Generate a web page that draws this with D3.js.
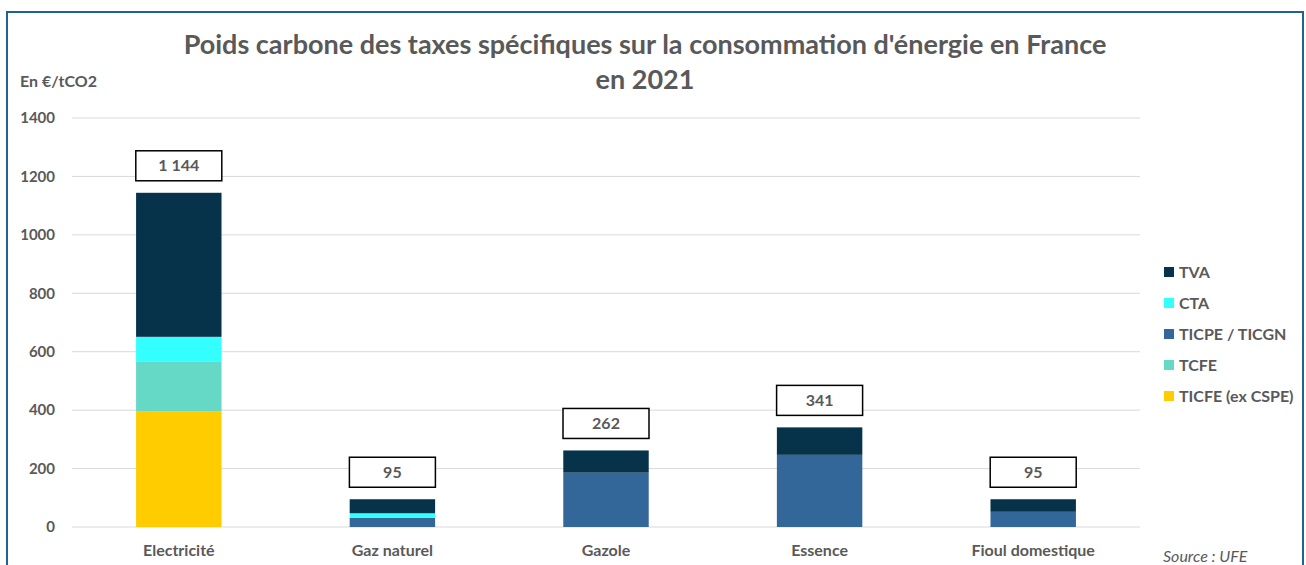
<!DOCTYPE html>
<html lang="fr">
<head>
<meta charset="UTF-8">
<script src="https://d3js.org/d3.v7.min.js"></script>
<title>Poids carbone des taxes</title>
<style>
  body { margin: 0; background: #fff; }
  text { font-family: Lato, "Open Sans", sans-serif; }
</style>
</head>
<body>
<div id="chart"></div>
<script>
// categories and stacked series (€/tCO2)
var categories = ["Electricité", "Gaz naturel", "Gazole", "Essence", "Fioul domestique"];
var ticfe  = [395, 0, 0, 0, 0];
var tcfe   = [170, 0, 0, 0, 0];
var ticpe  = [0, 31, 186, 247, 52];
var cta    = [86, 16, 0, 0, 0];
var tva    = [493, 48, 76, 94, 43];
var totals = ["1 144", "95", "262", "341", "95"];
var yTicks = [0, 200, 400, 600, 800, 1000, 1200, 1400];

var seriesNames  = ["TICFE (ex CSPE)", "TCFE", "TICPE / TICGN", "CTA", "TVA"];
var seriesColors = ["#ffcc00", "#66d9c6", "#336699", "#33ffff", "#06334a"];

var W = 1306, H = 565;
var svg = d3.select("#chart").append("svg").attr("width", W).attr("height", H);

// frame
svg.append("rect").attr("x", 7).attr("y", 12).attr("width", 1296).attr("height", 600)
  .attr("fill", "none").attr("stroke", "#1f6391").attr("stroke-width", 2);

var rows = categories.map(function(c, i) {
  return {cat: c, "TICFE (ex CSPE)": ticfe[i], "TCFE": tcfe[i], "TICPE / TICGN": ticpe[i],
          "CTA": cta[i], "TVA": tva[i], label: totals[i]};
});
var stack = d3.stack().keys(seriesNames)(rows);

var x = d3.scaleBand().domain(categories).range([72, 1140]).paddingInner(0.6).paddingOuter(0.3);
var y = d3.scaleLinear().domain([0, 1400]).range([527, 118]);

// gridlines
svg.append("g").selectAll("line").data(yTicks).join("line")
  .attr("x1", 72).attr("x2", 1140)
  .attr("y1", function(d) { return y(d); }).attr("y2", function(d) { return y(d); })
  .attr("stroke", "#d9d9d9").attr("stroke-width", 1);

// y tick labels
svg.append("g").selectAll("text").data(yTicks).join("text")
  .attr("x", 55).attr("y", function(d) { return y(d); }).attr("dy", "0.35em")
  .attr("text-anchor", "end").attr("font-size", 15).attr("font-weight", "bold").attr("fill", "#595959")
  .text(function(d) { return d; });

// bars
svg.append("g").selectAll("g").data(stack).join("g")
  .attr("fill", function(d, i) { return seriesColors[i]; })
  .selectAll("rect").data(function(d) { return d; }).join("rect")
  .attr("x", function(d) { return x(d.data.cat); })
  .attr("width", x.bandwidth())
  .attr("y", function(d) { return y(d[1]); })
  .attr("height", function(d) { return y(d[0]) - y(d[1]); });

// total label boxes
var topLayer = stack[stack.length - 1];
var lab = svg.append("g").selectAll("g").data(topLayer).join("g")
  .attr("transform", function(d) {
    return "translate(" + (x(d.data.cat) + x.bandwidth() / 2) + "," + (y(d[1]) - 12) + ")";
  });
lab.append("rect").attr("x", -43).attr("y", -30).attr("width", 86).attr("height", 30)
  .attr("fill", "#fff").attr("stroke", "#000").attr("stroke-width", 1.5);
lab.append("text").attr("y", -15).attr("dy", "0.35em").attr("text-anchor", "middle")
  .attr("font-size", 16).attr("font-weight", "bold").attr("fill", "#595959")
  .text(function(d) { return d.data.label; });

// category labels
svg.append("g").selectAll("text").data(categories).join("text")
  .attr("x", function(d) { return x(d) + x.bandwidth() / 2; }).attr("y", 556)
  .attr("text-anchor", "middle").attr("font-size", 16).attr("font-weight", "bold").attr("fill", "#595959")
  .text(function(d) { return d; });

// title
var title = svg.append("text").attr("x", 645).attr("y", 54).attr("text-anchor", "middle")
  .attr("font-size", 27).attr("font-weight", "bold").attr("fill", "#595959");
title.append("tspan").attr("x", 645).text("Poids carbone des taxes spécifiques sur la consommation d'énergie en France");
title.append("tspan").attr("x", 645).attr("dy", 35).text("en 2021");

// unit
svg.append("text").attr("x", 20).attr("y", 87).attr("font-size", 16).attr("font-weight", "bold")
  .attr("fill", "#595959").text("En €/tCO2");

// legend (top series first)
var legendItems = seriesNames.slice().reverse();
var legendColors = seriesColors.slice().reverse();
var leg = svg.append("g").selectAll("g").data(legendItems).join("g")
  .attr("transform", function(d, i) { return "translate(1164," + (272 + i * 31) + ")"; });
leg.append("rect").attr("x", 0).attr("y", -5).attr("width", 10).attr("height", 10)
  .attr("fill", function(d, i) { return legendColors[i]; });
leg.append("text").attr("x", 15).attr("dy", "0.35em").attr("font-size", 16).attr("font-weight", "bold")
  .attr("fill", "#595959").text(function(d) { return d; });

// source
svg.append("text").attr("x", 1163).attr("y", 562).attr("font-size", 16).attr("font-style", "italic")
  .attr("fill", "#595959").text("Source : UFE");
</script>
</body>
</html>
